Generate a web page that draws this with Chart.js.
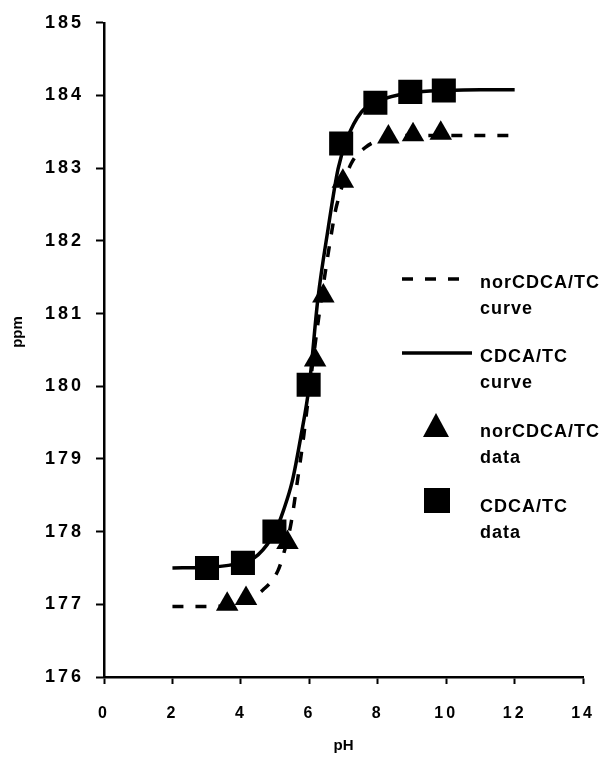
<!DOCTYPE html>
<html>
<head>
<meta charset="utf-8">
<script src="https://cdn.jsdelivr.net/npm/chart.js@4/dist/chart.umd.min.js"></script>
<style>
  html, body { margin: 0; padding: 0; background: #fff; }
  #wrap { width: 612px; height: 762px; }
</style>
</head>
<body>
<div id="wrap"><canvas id="phChart" width="612" height="762"></canvas></div>
<script>
// fitted curves
const norCurvePH = [2, 3, 4, 4.65, 5.08, 5.27, 5.46, 5.65, 5.84, 5.93, 6.27, 6.67, 6.79, 7.22, 7.65, 8.3, 9, 10, 11, 12];
const norCurvePPM = [176.97, 176.97, 177.02, 177.2, 177.46, 177.73, 178.1, 178.69, 179.33, 179.68, 180.93, 182.17, 182.47, 183.06, 183.29, 183.42, 183.45, 183.45, 183.45, 183.45];

const cdcaCurvePH = [2, 3, 4, 4.5, 5, 5.25, 5.5, 5.75, 6, 6.25, 6.55, 6.84, 7.1, 7.52, 8, 9, 10, 11, 12];
const cdcaCurvePPM = [177.5, 177.51, 177.57, 177.68, 178.0, 178.3, 178.69, 179.3, 180.02, 181.2, 182.17, 182.99, 183.4, 183.77, 183.92, 184.04, 184.07, 184.08, 184.08];

// measured points
const norDataPH = [3.6, 4.15, 5.36, 6.17, 6.41, 6.98, 8.31, 9.03, 9.84];
const norDataPPM = [177.0, 177.08, 177.85, 180.36, 181.24, 182.82, 183.43, 183.46, 183.48];

const cdcaDataPH = [3.01, 4.06, 4.98, 5.98, 6.93, 7.93, 8.95, 9.93];
const cdcaDataPPM = [177.5, 177.57, 178.0, 180.02, 183.34, 183.9, 184.05, 184.07];

const xTicks = [0, 2, 4, 6, 8, 10, 12, 14];
const yTicks = [176, 177, 178, 179, 180, 181, 182, 183, 184, 185];

const xTitle = 'pH';
const yTitle = 'ppm';

const legendItems = [
  { kind: 'dash', lines: ['norCDCA/TC', 'curve'] },
  { kind: 'solid', lines: ['CDCA/TC', 'curve'] },
  { kind: 'triangle', lines: ['norCDCA/TC', 'data'] },
  { kind: 'square', lines: ['CDCA/TC', 'data'] }
];

function toPoints(xs, ys) {
  return xs.map((x, i) => ({ x: x, y: ys[i] }));
}

const FONT = '"Liberation Sans", Arial, Helvetica, sans-serif';

// spaced-out tick lettering like the scan
const spacingPlugin = {
  id: 'spacing',
  beforeDraw(chart) {
    chart.ctx.letterSpacing = '3px';
  },
  afterDatasetsDraw(chart) {
    chart.ctx.letterSpacing = '0px';
  }
};

// axis titles and the legend, drawn by hand
const sideLegend = {
  id: 'sideLegend',
  afterDraw(chart) {
    const ctx = chart.ctx;
    const area = chart.chartArea;
    ctx.save();
    ctx.letterSpacing = '0px';
    ctx.fillStyle = '#000';
    ctx.font = 'bold 15px ' + FONT;
    ctx.textAlign = 'center';
    ctx.textBaseline = 'middle';
    ctx.fillText(xTitle, (area.left + area.right) / 2, 746);
    ctx.translate(18, 332);
    ctx.rotate(-Math.PI / 2);
    ctx.fillText(yTitle, 0, 0);
    ctx.restore();

    const rowTop = [283, 357, 432, 507];
    ctx.save();
    ctx.letterSpacing = '1px';
    ctx.fillStyle = '#000';
    ctx.strokeStyle = '#000';
    ctx.font = 'bold 18px ' + FONT;
    ctx.textBaseline = 'middle';
    ctx.textAlign = 'left';

    legendItems.forEach((item, i) => {
      const y = rowTop[i];
      if (item.kind === 'dash') {
        ctx.lineWidth = 3.5;
        ctx.setLineDash([11, 12]);
        ctx.beginPath();
        ctx.moveTo(402, y - 4);
        ctx.lineTo(462, y - 4);
        ctx.stroke();
        ctx.setLineDash([]);
      } else if (item.kind === 'solid') {
        ctx.lineWidth = 3.5;
        ctx.beginPath();
        ctx.moveTo(402, y - 4);
        ctx.lineTo(472, y - 4);
        ctx.stroke();
      } else if (item.kind === 'triangle') {
        ctx.beginPath();
        ctx.moveTo(436, y - 19);
        ctx.lineTo(449, y + 5);
        ctx.lineTo(423, y + 5);
        ctx.closePath();
        ctx.fill();
      } else {
        ctx.fillRect(424, y - 19, 26, 25);
      }
      ctx.fillText(item.lines[0], 480, y);
      ctx.fillText(item.lines[1], 480, y + 26);
    });
    ctx.restore();
  }
};

const ctx = document.getElementById('phChart').getContext('2d');
const phChart = new Chart(ctx, {
  type: 'scatter',
  data: {
    datasets: [
      {
        label: 'CDCA/TC data',
        data: toPoints(cdcaDataPH, cdcaDataPPM),
        pointStyle: 'rect',
        pointRadius: 17,
        backgroundColor: '#000',
        borderColor: '#000',
        borderWidth: 0,
        order: 0
      },
      {
        label: 'norCDCA/TC data',
        data: toPoints(norDataPH, norDataPPM),
        pointStyle: 'triangle',
        pointRadius: 13,
        backgroundColor: '#000',
        borderColor: '#000',
        borderWidth: 0,
        order: 1
      },
      {
        label: 'CDCA/TC curve',
        data: toPoints(cdcaCurvePH, cdcaCurvePPM),
        showLine: true,
        pointRadius: 0,
        borderColor: '#000',
        borderWidth: 3.5,
        cubicInterpolationMode: 'monotone',
        order: 2
      },
      {
        label: 'norCDCA/TC curve',
        data: toPoints(norCurvePH, norCurvePPM),
        showLine: true,
        pointRadius: 0,
        borderColor: '#000',
        borderWidth: 3.5,
        borderDash: [11, 12],
        borderCapStyle: 'butt',
        cubicInterpolationMode: 'monotone',
        order: 3
      }
    ]
  },
  options: {
    responsive: false,
    animation: false,
    layout: {
      padding: { top: 21, right: 18, bottom: 0, left: 0 }
    },
    plugins: {
      legend: { display: false },
      tooltip: { enabled: false }
    },
    scales: {
      x: {
        type: 'linear',
        min: xTicks[0],
        max: xTicks[xTicks.length - 1],
        afterBuildTicks: (scale) => { scale.ticks = xTicks.map(v => ({ value: v })); },
        afterFit: (scale) => { scale.height = 85; },
        grid: {
          display: true,
          drawOnChartArea: false,
          drawTicks: true,
          tickLength: 7,
          tickWidth: 2,
          tickColor: '#000'
        },
        border: { display: true, color: '#000', width: 2.5 },
        ticks: {
          color: '#000',
          padding: 20,
          font: { family: FONT, size: 16, weight: 'bold' }
        }
      },
      y: {
        type: 'linear',
        min: yTicks[0],
        max: yTicks[yTicks.length - 1],
        afterBuildTicks: (scale) => { scale.ticks = yTicks.map(v => ({ value: v })); },
        afterFit: (scale) => { scale.width = 104; },
        grid: {
          display: true,
          drawOnChartArea: false,
          drawTicks: true,
          tickLength: 8,
          tickWidth: 2,
          tickColor: '#000'
        },
        border: { display: true, color: '#000', width: 2.5 },
        ticks: {
          color: '#000',
          padding: 12,
          font: { family: FONT, size: 18, weight: 'bold' }
        }
      }
    }
  },
  plugins: [spacingPlugin, sideLegend]
});
</script>
</body>
</html>
